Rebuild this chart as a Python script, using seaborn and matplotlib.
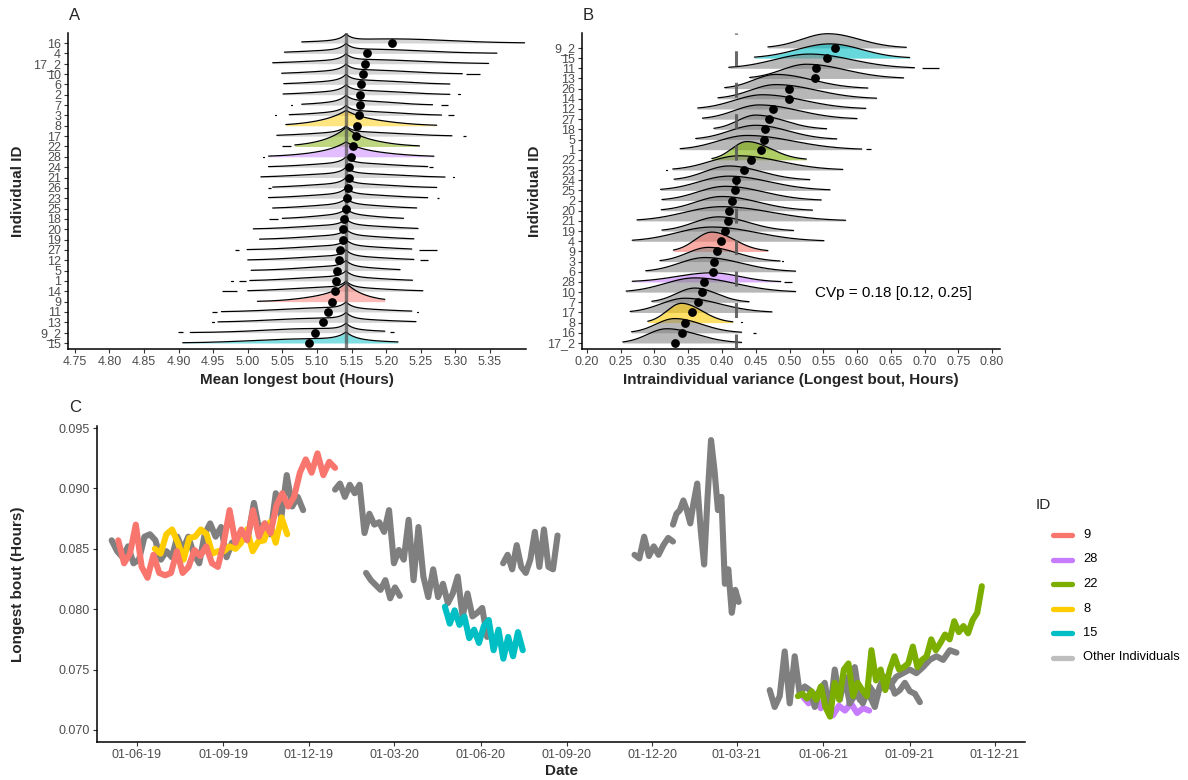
import numpy as np
import pandas as pd
import matplotlib
matplotlib.use("Agg")
import matplotlib.pyplot as plt
import matplotlib.dates as mdates
from matplotlib.lines import Line2D
import seaborn as sns

sns.set_theme(style="ticks")
plt.rcParams["font.family"] = ["Liberation Sans", "DejaVu Sans"]

# ---------------- Panel A: mean longest bout per individual ----------------
a_ids = ["16", "4", "17_2", "10", "6", "2", "7", "3", "8", "17", "22", "28", "24", "21", "26",
         "23", "25", "18", "20", "19", "27", "12", "5", "1", "14", "9", "11", "13", "9_2", "15"]
a_mean = [5.208, 5.173, 5.169, 5.166, 5.163, 5.162, 5.162, 5.161, 5.158, 5.156, 5.152, 5.149,
          5.147, 5.146, 5.145, 5.1435, 5.142, 5.139, 5.138, 5.137, 5.133, 5.1325, 5.129, 5.128,
          5.126, 5.122, 5.116, 5.109, 5.097, 5.088]
a_low = [5.078, 5.053, 5.036, 5.049, 5.052, 5.051, 5.078, 5.060, 5.055, 5.042, 5.068, 5.030,
         5.030, 5.019, 5.036, 5.030, 5.036, 5.050, 5.008, 5.017, 4.999, 5.000, 5.005, 5.003,
         5.000, 5.014, 4.962, 4.957, 4.917, 4.906]
a_high = [5.400, 5.360, 5.348, 5.310, 5.292, 5.292, 5.267, 5.280, 5.273, 5.295, 5.248, 5.269,
          5.260, 5.285, 5.273, 5.260, 5.244, 5.225, 5.246, 5.240, 5.237, 5.240, 5.220, 5.238,
          5.253, 5.198, 5.237, 5.243, 5.198, 5.217]
# isolated tail fragments of the densities, (from, to)
a_tail_bits = {
    "10": [(5.316, 5.335)], "2": [(5.304, 5.306)], "7": [(5.062, 5.064), (5.279, 5.289)],
    "3": [(5.039, 5.041), (5.289, 5.298)], "17": [(5.311, 5.316)], "22": [(5.049, 5.062)],
    "28": [(5.022, 5.024)], "24": [(5.262, 5.267)], "21": [(5.296, 5.298)],
    "26": [(5.029, 5.033)], "23": [(5.273, 5.277)], "18": [(5.031, 5.043)],
    "27": [(4.981, 4.987), (5.247, 5.273)], "12": [(5.249, 5.261)],
    "1": [(4.976, 4.978), (4.988, 4.998)], "14": [(4.963, 4.984)], "11": [(4.948, 4.955), (5.244, 5.246)],
    "13": [(4.949, 4.951)], "9_2": [(4.899, 4.906), (5.206, 5.211)],
}
a_pop_mean = 5.142
a_ticks = [4.75, 4.80, 4.85, 4.90, 4.95, 5.00, 5.05, 5.10, 5.15, 5.20, 5.25, 5.30, 5.35]

# ---------------- Panel B: intraindividual variance ----------------
b_ids = ["9_2", "15", "11", "13", "26", "14", "12", "27", "18", "5", "1", "22", "23", "24", "25",
         "2", "20", "21", "19", "4", "9", "3", "6", "28", "10", "7", "17", "8", "16", "17_2"]
b_mean = [0.567, 0.556, 0.539, 0.538, 0.499, 0.499, 0.476, 0.469, 0.464, 0.462, 0.458, 0.443,
          0.433, 0.421, 0.420, 0.415, 0.411, 0.409, 0.404, 0.398, 0.392, 0.388, 0.387, 0.374,
          0.371, 0.364, 0.355, 0.345, 0.341, 0.330]
b_mode = [0.557, 0.560, 0.530, 0.525, 0.480, 0.480, 0.460, 0.455, 0.450, 0.450, 0.437, 0.437,
          0.425, 0.410, 0.410, 0.405, 0.400, 0.400, 0.395, 0.385, 0.385, 0.380, 0.375, 0.385,
          0.360, 0.360, 0.345, 0.340, 0.330, 0.318]
b_low = [0.468, 0.448, 0.410, 0.441, 0.404, 0.394, 0.364, 0.371, 0.388, 0.361, 0.338, 0.385,
         0.327, 0.329, 0.309, 0.311, 0.310, 0.274, 0.311, 0.267, 0.328, 0.308, 0.287, 0.267,
         0.258, 0.296, 0.264, 0.290, 0.266, 0.253]
b_high = [0.673, 0.678, 0.685, 0.669, 0.616, 0.629, 0.613, 0.600, 0.555, 0.570, 0.607, 0.525,
          0.579, 0.530, 0.560, 0.547, 0.534, 0.583, 0.506, 0.551, 0.468, 0.486, 0.509, 0.487,
          0.509, 0.440, 0.474, 0.416, 0.429, 0.429]
b_tail_bits = {
    "11": [(0.697, 0.722)], "1": [(0.614, 0.620)], "3": [(0.489, 0.491)], "28": [(0.492, 0.503)],
    "8": [(0.428, 0.430)], "16": [(0.446, 0.451)], "23": [(0.317, 0.319)],
}
b_pop_var = 0.421
b_ticks = [0.20, 0.25, 0.30, 0.35, 0.40, 0.45, 0.50, 0.55, 0.60, 0.65, 0.70, 0.75, 0.80]
cvp_text = "CVp = 0.18 [0.12, 0.25]"

# ---------------- Panel C: longest bout over time ----------------
id9_vals = [0.0857, 0.0838, 0.0846, 0.0870, 0.0835, 0.0826, 0.0845, 0.0830, 0.0828, 0.0830,
            0.0848, 0.0830, 0.0835, 0.0849, 0.0844, 0.0852, 0.0838, 0.0835, 0.0855, 0.0882,
            0.0855, 0.0866, 0.0857, 0.0882, 0.0860, 0.0871, 0.0863, 0.0886, 0.0896, 0.0885,
            0.0893, 0.0913, 0.0924, 0.0913, 0.0929, 0.0911, 0.0922, 0.0917]
id8_vals = [0.0850, 0.0846, 0.0862, 0.0866, 0.0855, 0.0841, 0.0859, 0.0860, 0.0866, 0.0862,
            0.0846, 0.0848, 0.0848, 0.0852, 0.0850, 0.0855, 0.0866, 0.0848, 0.0856, 0.0857,
            0.0872, 0.0855, 0.0876, 0.0862]
id15_vals = [0.0802, 0.0788, 0.0799, 0.0787, 0.0794, 0.0776, 0.0783, 0.0772, 0.0786, 0.0791,
             0.0766, 0.0783, 0.0759, 0.0777, 0.0761, 0.0781, 0.0766]
id22_vals = [0.0728, 0.0730, 0.0726, 0.0732, 0.0725, 0.0736, 0.0719, 0.0711, 0.0739, 0.0725,
             0.0750, 0.0755, 0.0728, 0.0739, 0.0733, 0.0728, 0.0766, 0.0741, 0.0750, 0.0733,
             0.0750, 0.0761, 0.0750, 0.0752, 0.0755, 0.0769, 0.0752, 0.0758, 0.0761, 0.0775,
             0.0766, 0.0772, 0.0779, 0.0775, 0.0790, 0.0781, 0.0786, 0.0780, 0.0791, 0.0797,
             0.0819]
id28_vals = [0.0728, 0.0722, 0.0730, 0.0718, 0.0725, 0.0712, 0.0720, 0.0716, 0.0722, 0.0714,
             0.0718, 0.0716]
other_a_vals = [0.0857, 0.0848, 0.0843, 0.0852, 0.0838, 0.0841, 0.0860, 0.0862, 0.0857, 0.0841,
                0.0848, 0.0843, 0.0860, 0.0849, 0.0860, 0.0846, 0.0838, 0.0862, 0.0871, 0.0860,
                0.0868, 0.0843, 0.0855, 0.0857, 0.0860, 0.0862, 0.0888, 0.0865, 0.0871, 0.0862,
                0.0896, 0.0876, 0.0911, 0.0885, 0.0893, 0.0882]
other_b_vals = [0.0899, 0.0904, 0.0893, 0.0903, 0.0896, 0.0903, 0.0863, 0.0879, 0.0870, 0.0872,
                0.0864, 0.0882, 0.0838, 0.0849, 0.0841, 0.0874, 0.0824, 0.0868, 0.0827, 0.0810,
                0.0833, 0.0810, 0.0821, 0.0805, 0.0813, 0.0827, 0.0794, 0.0813, 0.0794, 0.0797,
                0.0801, 0.0777]
other_c_vals = [0.0830, 0.0824, 0.0820, 0.0816, 0.0824, 0.0809, 0.0818, 0.0811]
other_d_vals = [0.0838, 0.0845, 0.0833, 0.0853, 0.0835, 0.0830, 0.0841, 0.0864, 0.0835, 0.0866,
                0.0835, 0.0833, 0.0861]
other_e_vals = [0.0845, 0.0842, 0.0860, 0.0844, 0.0852, 0.0845, 0.0853, 0.0859, 0.0856]
other_f_vals = [0.0870, 0.0879, 0.0882, 0.0890, 0.0882, 0.0871, 0.0889, 0.0904, 0.0866, 0.0837,
                0.0893, 0.0940, 0.0915, 0.0882, 0.0893, 0.0821, 0.0833, 0.0797, 0.0816, 0.0806]
other_g_vals = [0.0733, 0.0719, 0.0728, 0.0765, 0.0722, 0.0761, 0.0730, 0.0736, 0.0733, 0.0719,
                0.0733, 0.0739, 0.0714, 0.0750, 0.0725, 0.0744, 0.0722, 0.0752, 0.0725, 0.0730,
                0.0728, 0.0719, 0.0736, 0.0744, 0.0741, 0.0730, 0.0733, 0.0739, 0.0732, 0.0730,
                0.0723]
other_h_vals = [0.0722, 0.0730, 0.0722, 0.0736, 0.0728, 0.0741, 0.0736, 0.0744, 0.0747, 0.0750,
                0.0747, 0.0752, 0.0758, 0.0761, 0.0758, 0.0766, 0.0764]

# (id, first day, last day, values)
c_series = [
    ("28", "2021-05-10", "2021-07-20", id28_vals),
    ("Other", "2019-05-05", "2019-11-25", other_a_vals),
    ("Other", "2019-12-29", "2020-06-08", other_b_vals),
    ("Other", "2020-01-31", "2020-03-07", other_c_vals),
    ("Other", "2020-06-25", "2020-08-22", other_d_vals),
    ("Other", "2020-11-12", "2020-12-23", other_e_vals),
    ("Other", "2020-12-23", "2021-03-03", other_f_vals),
    ("Other", "2021-04-05", "2021-09-12", other_g_vals),
    ("Other", "2021-06-29", "2021-10-21", other_h_vals),
    ("8", "2019-06-20", "2019-11-08", id8_vals),
    ("15", "2020-04-24", "2020-07-16", id15_vals),
    ("9", "2019-05-12", "2019-12-29", id9_vals),
    ("22", "2021-05-05", "2021-11-17", id22_vals),
]
c_ticks = ["2019-06-01", "2019-09-01", "2019-12-01", "2020-03-01", "2020-06-01", "2020-09-01",
           "2020-12-01", "2021-03-01", "2021-06-01", "2021-09-01", "2021-12-01"]
c_yticks = [0.070, 0.075, 0.080, 0.085, 0.090, 0.095]

legend_ids = ["9", "28", "22", "8", "15", "Other Individuals"]
palette = {"9": "#F8766D", "28": "#C77CFF", "22": "#7CAE00", "8": "#FFCC00", "15": "#00BFC4",
           "Other": "#7F7F7F", "Other Individuals": "#BEBEBE"}

# ---------------- figure ----------------
W, H = 1188, 780
fig = plt.figure(figsize=(W / 100, H / 100), dpi=100)
fig.patch.set_facecolor("white")


def axes_px(left, top, right, bottom):
    return fig.add_axes([left / W, 1 - bottom / H, (right - left) / W, (bottom - top) / H])


def style(ax):
    for s in ["top", "right"]:
        ax.spines[s].set_visible(False)
    for s in ["left", "bottom"]:
        ax.spines[s].set_linewidth(1.1)
        ax.spines[s].set_color("black")
    ax.tick_params(axis="both", length=3, width=0.8, color="#333333", labelsize=9,
                   labelcolor="#4D4D4D", pad=2)
    ax.set_facecolor("white")
    ax.grid(False)


def fig_text(x, y, s, **kw):
    fig.text(x / W, 1 - y / H, s, **kw)


def draw_ridge(ax, x, h, base, rid, order, gray_alpha, col_alpha, bits):
    col = palette.get(rid) if rid in ("9", "28", "22", "8", "15") else None
    fc = col if col else "#808080"
    a = col_alpha if col else gray_alpha
    z = 2 + order * 0.02
    ax.fill_between(x, base, base + h, facecolor=fc, alpha=a, lw=0, zorder=z, clip_on=False)
    ax.plot(x, base + h, color="black", lw=0.9, zorder=z + 0.01, clip_on=False)
    for b0, b1 in bits:
        ax.plot([b0, b1], [base + 0.03, base + 0.03], color="black", lw=0.9,
                solid_capstyle="butt" if b1 - b0 > 0.004 else "round", zorder=z + 0.01)


# ---- Panel A ----
axA = axes_px(68, 33, 526, 349)
style(axA)
nA = len(a_ids)
a_shape = {"8": (1.1, 0.028), "22": (1.45, 0.025), "28": (1.05, 0.025), "9": (1.45, 0.022),
           "15": (0.75, 0.014)}
for i, rid in enumerate(a_ids):
    lo, hi, mu = a_low[i], a_high[i], a_mean[i]
    x = np.linspace(lo, hi, 400)
    sd = (hi - lo) / 4.0
    sh, sw = a_shape.get(rid, (0.6, 0.009))
    h = 0.4 * np.exp(-0.5 * ((x - mu) / sd) ** 2) + sh * np.exp(-np.abs(x - a_pop_mean) / sw)
    draw_ridge(axA, x, h, nA - 1 - i, rid, i, 0.33, 0.5, a_tail_bits.get(rid, []))
axA.axvline(a_pop_mean, color="#4D4D4D", lw=2.4, alpha=0.7, zorder=3)
sns.scatterplot(x=a_mean, y=[nA - 1 - i for i in range(nA)], color="black", s=40,
                edgecolor="black", linewidth=0, ax=axA, zorder=10, legend=False)
axA.set_xlim(4.7403, 5.35 + 36 / 692)
axA.set_ylim(-0.58, 29.97)
axA.set_xticks(a_ticks)
axA.set_xticklabels([f"{t:.2f}" for t in a_ticks])
axA.set_yticks(range(nA))
axA.set_yticklabels(a_ids[::-1])
axA.set_xlabel("")
axA.set_ylabel("")

# ---- Panel B ----
axB = axes_px(582, 33, 1000, 349)
style(axB)
nB = len(b_ids)
b_height = {"15": 1.4, "22": 1.8, "9": 1.9, "28": 0.9, "8": 1.9}
for i, rid in enumerate(b_ids):
    lo, hi, p = b_low[i], b_high[i], b_mode[i]
    x = np.linspace(lo, hi, 400)
    w = np.where(x < p, (p - lo) / 2.3, (hi - p) / 2.5)
    h = b_height.get(rid, 1.4) * np.exp(-0.5 * ((x - p) / w) ** 2)
    draw_ridge(axB, x, h, nB - 1 - i, rid, i, 0.56, 0.6, b_tail_bits.get(rid, []))
axB.axvline(b_pop_var, color="#595959", lw=2.2, alpha=0.9, zorder=3, dashes=(4.9, 5.4))
sns.scatterplot(x=b_mean, y=[nB - 1 - i for i in range(nB)], color="black", s=40,
                edgecolor="black", linewidth=0, ax=axB, zorder=10, legend=False)
axB.text(0.6534, 4.9, cvp_text, fontsize=11, ha="center", va="center", color="black")
axB.set_xlim(0.20 - 5 / 676, 0.80 + 8 / 676)
axB.set_ylim(-0.59, 30.47)
axB.set_xticks(b_ticks)
axB.set_xticklabels([f"{t:.2f}" for t in b_ticks])
axB.set_yticks(range(nB))
axB.set_yticklabels(b_ids[::-1])
axB.set_xlabel("")
axB.set_ylabel("")

# ---- Panel C ----
axC = axes_px(97, 425.6, 1025, 742)
style(axC)
for sid, d0, d1, vals in c_series:
    dates = pd.date_range(d0, d1, periods=len(vals))
    sns.lineplot(x=dates, y=vals, ax=axC, color=palette[sid], linewidth=4.4, estimator=None,
                 sort=False, legend=False, solid_joinstyle="round", solid_capstyle="round")
origin = mdates.date2num(pd.Timestamp("2019-06-01"))
axC.set_xlim(origin - 40 / 0.9387, origin + 888 / 0.9387)
axC.set_ylim(0.0690, 0.0952)
axC.set_xticks([mdates.date2num(pd.Timestamp(t)) for t in c_ticks])
axC.xaxis.set_major_formatter(mdates.DateFormatter("%d-%m-%y"))
axC.set_yticks(c_yticks)
axC.set_yticklabels([f"{t:.3f}" for t in c_yticks])
axC.set_xlabel("")
axC.set_ylabel("")

# ---- titles and labels ----
fig_text(75, 16, "A", fontsize=12, ha="center", va="center")
fig_text(588, 16, "B", fontsize=12, ha="center", va="center")
fig_text(75, 408, "C", fontsize=12, ha="center", va="center")
fig_text(297, 380, "Mean longest bout (Hours)", fontsize=11, fontweight="bold", ha="center", va="center")
fig_text(791, 380, "Intraindividual variance (Longest bout, Hours)", fontsize=11,
         fontweight="bold", ha="center", va="center")
fig_text(18, 191, "Individual ID", fontsize=11, fontweight="bold", rotation=90, ha="center", va="center")
fig_text(535, 191, "Individual ID", fontsize=11, fontweight="bold", rotation=90, ha="center", va="center")
fig_text(561, 771, "Date", fontsize=11, fontweight="bold", ha="center", va="center")
fig_text(18, 584, "Longest bout (Hours)", fontsize=11, fontweight="bold", rotation=90,
         ha="center", va="center")

# ---- legend ----
fig_text(1036, 505, "ID", fontsize=11, ha="left", va="center")
for k, lab in enumerate(legend_ids):
    y = 535 + k * 24.5
    fig.add_artist(Line2D([1053 / W, 1072 / W], [1 - y / H, 1 - y / H], color=palette[lab],
                          lw=3.8, transform=fig.transFigure))
    fig_text(1083, y, lab, fontsize=9.3, ha="left", va="center", color="black")

fig.savefig("out.png", dpi=100, facecolor="white")
